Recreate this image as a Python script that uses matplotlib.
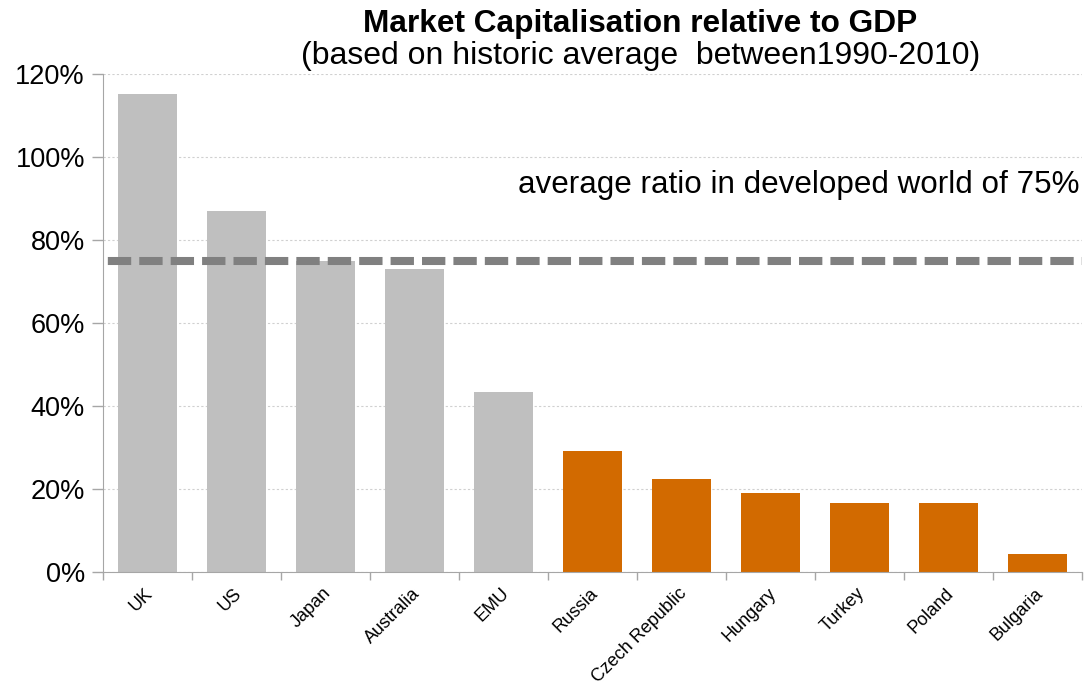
import matplotlib
matplotlib.use("Agg")
import matplotlib.pyplot as plt
from matplotlib.ticker import FuncFormatter
import matplotlib.transforms as mtransforms

plt.rcParams['font.family'] = ['Liberation Sans', 'DejaVu Sans']

categories = ["UK", "US", "Japan", "Australia", "EMU", "Russia", "Czech Republic",
              "Hungary", "Turkey", "Poland", "Bulgaria"]
values = [115.3, 87.0, 75.0, 73.1, 43.5, 29.3, 22.6, 19.2, 16.8, 16.6, 4.3]
developed = [True, True, True, True, True, False, False, False, False, False, False]
average_ratio = 75
yticks = [0, 20, 40, 60, 80, 100, 120]

grey = "#BFBFBF"
orange = "#D26A00"
colors = [grey if d else orange for d in developed]

fig = plt.figure(figsize=(10.92, 6.86), dpi=100)
ax = fig.add_axes([0.0943, 0.1657, 0.8965, 0.726])

x = list(range(len(categories)))
ax.bar(x, values, width=0.67, color=colors, zorder=2)
ax.axhline(average_ratio, color="#808080", lw=5.8, linestyle=(3.3, (2.9, 1.0)), zorder=3)

ax.set_xlim(-0.5, len(categories) - 0.5)
ax.set_ylim(0, 120)
ax.set_yticks(yticks)
ax.yaxis.set_major_formatter(FuncFormatter(lambda v, p: f"{v:.0f}%"))
ax.tick_params(axis='y', labelsize=19.5, length=8, width=1, color="#A6A6A6", pad=5)
ax.tick_params(axis='x', length=0, pad=9)
ax.set_xticks(x)
ax.set_xticklabels(categories, rotation=45, ha='right', rotation_mode='anchor', fontsize=13)
for lbl in ax.get_xticklabels():
    lbl.set_transform(lbl.get_transform() + mtransforms.ScaledTranslation(-0.03, 0.0, fig.dpi_scale_trans))
# category boundary ticks
ax.set_xticks([i - 0.5 for i in range(len(categories) + 1)], minor=True)
ax.tick_params(axis='x', which='minor', length=6, width=1, color="#A6A6A6")

ax.grid(axis='y', color="#D0D0D0", linestyle=(0, (2, 2)), lw=0.8, zorder=0)
for s in ['top', 'right']:
    ax.spines[s].set_visible(False)
ax.spines['left'].set_color("#A6A6A6")
ax.spines['bottom'].set_color("#A6A6A6")

fig.text(0.5865, 0.9534, "Market Capitalisation relative to GDP", ha='center', va='baseline',
         fontsize=22.8, fontweight='bold')
fig.text(0.587, 0.9067, "(based on historic average  between1990-2010)", ha='center', va='baseline',
         fontsize=23)
ax.text(0.997, 91.4, "average ratio in developed world of 75%", ha='right', va='baseline',
        fontsize=22.6, transform=ax.get_yaxis_transform())

fig.savefig("out.png", dpi=100)
